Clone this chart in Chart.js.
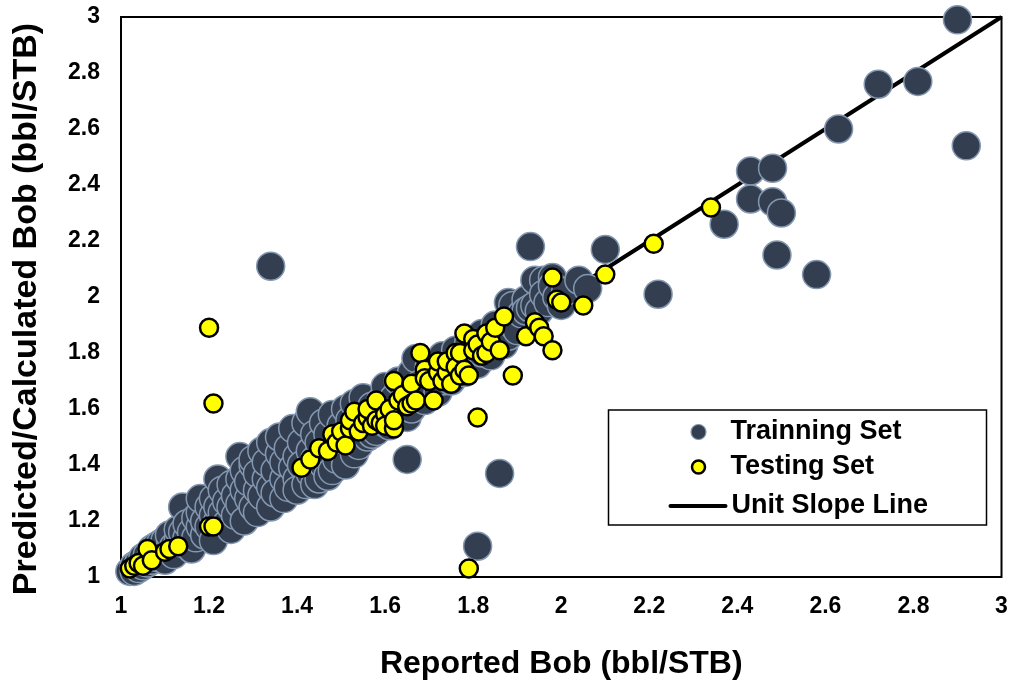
<!DOCTYPE html>
<html>
<head>
<meta charset="utf-8">
<script src="https://cdn.jsdelivr.net/npm/chart.js@4/dist/chart.umd.min.js"></script>
<style>
  html, body { margin: 0; padding: 0; background: #ffffff; }
  #wrap { width: 1017px; height: 687px; }
</style>
</head>
<body>
<div id="wrap"><canvas id="bobChart" width="1017" height="687"></canvas></div>
<script>
// Axis ticks (bbl/STB)
const xTickLabels = ['1', '1.2', '1.4', '1.6', '1.8', '2', '2.2', '2.4', '2.6', '2.8', '3'];
const yTickLabels = ['1', '1.2', '1.4', '1.6', '1.8', '2', '2.2', '2.4', '2.6', '2.8', '3'];
const xAxisTitle = 'Reported Bob (bbl/STB)';
const yAxisTitle = 'Predicted/Calculated Bob (bbl/STB)';

// Training set: [reported Bob, predicted Bob]
const trainingSet = [
  [1.02,1.02],[1.03,1.04],[1.03,1.02],[1.04,1.05],[1.04,1.03],[1.05,1.04],[1.05,1.07],[1.06,1.05],
  [1.06,1.08],[1.07,1.06],[1.07,1.10],[1.08,1.07],[1.08,1.11],[1.09,1.08],[1.09,1.12],[1.10,1.09],
  [1.10,1.13],[1.10,1.06],[1.11,1.10],[1.11,1.15],[1.12,1.11],[1.12,1.08],[1.13,1.13],[1.13,1.17],
  [1.14,1.12],[1.14,1.16],[1.14,1.25],[1.15,1.14],[1.15,1.19],[1.16,1.10],[1.16,1.16],[1.17,1.21],
  [1.17,1.14],[1.18,1.18],[1.18,1.23],[1.18,1.28],[1.19,1.15],[1.19,1.20],[1.20,1.25],[1.20,1.18],
  [1.21,1.22],[1.21,1.28],[1.21,1.13],[1.22,1.20],[1.22,1.25],[1.22,1.35],[1.23,1.31],[1.23,1.23],
  [1.24,1.27],[1.24,1.19],[1.25,1.33],[1.25,1.25],[1.25,1.17],[1.26,1.29],[1.26,1.22],[1.27,1.43],
  [1.27,1.35],[1.27,1.26],[1.28,1.31],[1.28,1.38],[1.28,1.20],[1.29,1.28],[1.29,1.34],[1.30,1.40],
  [1.30,1.25],[1.30,1.42],[1.31,1.31],[1.31,1.37],[1.31,1.23],[1.32,1.29],[1.32,1.45],[1.33,1.35],
  [1.33,1.41],[1.34,1.32],[1.34,1.48],[1.34,1.25],[1.35,1.38],[1.35,1.30],[1.36,1.44],[1.36,1.50],
  [1.37,1.35],[1.37,1.41],[1.37,1.28],[1.38,1.46],[1.38,1.32],[1.39,1.39],[1.39,1.53],[1.40,1.43],
  [1.40,1.35],[1.40,1.31],[1.41,1.48],[1.41,1.40],[1.42,1.55],[1.42,1.33],[1.43,1.59],[1.43,1.45],
  [1.43,1.37],[1.44,1.51],[1.44,1.42],[1.44,1.33],[1.45,1.35],[1.45,1.48],[1.46,1.55],[1.46,1.40],
  [1.47,1.45],[1.47,1.51],[1.47,1.36],[1.48,1.38],[1.48,1.58],[1.49,1.48],[1.49,1.42],[1.50,1.54],
  [1.50,1.45],[1.51,1.60],[1.51,1.40],[1.52,1.50],[1.52,1.56],[1.53,1.44],[1.53,1.62],[1.54,1.53],
  [1.54,1.47],[1.55,1.58],[1.55,1.64],[1.56,1.50],[1.56,1.55],[1.57,1.61],[1.57,1.51],[1.58,1.57],
  [1.58,1.52],[1.59,1.63],[1.60,1.55],[1.60,1.68],[1.61,1.59],[1.61,1.54],[1.62,1.64],[1.63,1.57],
  [1.63,1.70],[1.64,1.61],[1.65,1.57],[1.65,1.66],[1.66,1.73],[1.66,1.60],[1.67,1.78],[1.67,1.64],
  [1.68,1.69],[1.69,1.63],[1.70,1.75],[1.70,1.67],[1.71,1.72],[1.72,1.66],[1.73,1.79],[1.73,1.70],
  [1.74,1.75],[1.75,1.70],[1.76,1.81],[1.76,1.74],[1.77,1.78],[1.78,1.73],[1.79,1.84],[1.79,1.77],
  [1.80,1.81],[1.81,1.76],[1.82,1.87],[1.82,1.80],[1.83,1.84],[1.84,1.79],[1.85,1.90],[1.85,1.83],
  [1.86,1.87],[1.87,1.83],[1.88,1.92],[1.88,1.86],[1.88,1.98],[1.89,1.97],[1.89,1.90],[1.90,1.88],
  [1.91,1.94],[1.92,1.99],[1.92,1.95],[1.93,2.18],[1.93,1.96],[1.94,2.06],[1.94,1.97],[1.95,1.95],
  [1.96,2.06],[1.96,2.01],[1.97,1.98],[1.98,2.07],[1.98,2.04],[1.99,2.00],[2.00,1.97],[2.01,2.02],
  [2.04,2.06],[2.06,2.03],[2.10,2.17],[2.22,2.01],
  [1.34,2.11],[1.65,1.42],[1.86,1.37],[1.81,1.11],
  [2.37,2.26],[2.43,2.45],[2.48,2.46],[2.43,2.35],[2.48,2.34],[2.50,2.30],[2.49,2.15],[2.58,2.08],
  [2.63,2.60],[2.72,2.76],[2.81,2.77],[2.90,2.99],[2.92,2.54]
];

// Testing set: [reported Bob, predicted Bob]
const testingSet = [
  [1.02,1.03],[1.03,1.04],[1.04,1.05],[1.05,1.04],[1.06,1.10],[1.07,1.06],[1.10,1.09],[1.11,1.10],
  [1.13,1.11],[1.20,1.18],[1.21,1.18],[1.20,1.89],[1.21,1.62],
  [1.41,1.39],[1.43,1.42],[1.45,1.46],[1.47,1.45],[1.48,1.51],[1.49,1.48],[1.50,1.52],[1.51,1.47],
  [1.52,1.53],[1.52,1.56],[1.53,1.59],[1.54,1.52],[1.55,1.55],[1.56,1.57],[1.56,1.60],[1.57,1.54],
  [1.58,1.63],[1.58,1.56],[1.59,1.55],[1.60,1.58],[1.60,1.54],[1.61,1.60],[1.62,1.53],[1.62,1.70],
  [1.62,1.56],[1.63,1.63],[1.64,1.65],[1.65,1.61],[1.66,1.69],[1.66,1.62],[1.67,1.63],[1.68,1.80],
  [1.69,1.74],[1.69,1.71],[1.70,1.70],[1.71,1.63],[1.72,1.73],[1.72,1.77],[1.73,1.70],[1.74,1.73],
  [1.74,1.77],[1.75,1.69],[1.76,1.80],[1.76,1.75],[1.77,1.72],[1.77,1.80],[1.78,1.74],[1.78,1.87],
  [1.79,1.72],[1.80,1.85],[1.80,1.81],[1.81,1.83],[1.82,1.79],[1.83,1.80],[1.83,1.87],[1.84,1.84],
  [1.85,1.89],[1.86,1.81],[1.87,1.93],[1.89,1.72],[1.92,1.86],[1.94,1.91],[1.95,1.89],[1.96,1.86],
  [1.98,1.81],[1.98,2.07],[1.99,1.99],[2.00,1.98],[2.05,1.97],[2.10,2.08],[2.21,2.19],[2.34,2.32],
  [1.81,1.57],[1.79,1.03]
];

// Unit slope reference line end points
const unitSlopeLine = [[1, 1], [3, 3]];

const toXY = arr => arr.map(p => ({ x: p[0], y: p[1] }));
const FONT = "'Liberation Sans', Arial, Helvetica, sans-serif";

// Frame around the plotting area
const plotFrame = {
  id: 'plotFrame',
  beforeDatasetsDraw(chart) {
    const { ctx, chartArea: a } = chart;
    ctx.save();
    ctx.strokeStyle = '#000000';
    ctx.lineWidth = 2;
    ctx.strokeRect(a.left, a.top, a.right - a.left, a.bottom - a.top);
    ctx.restore();
  }
};

// Vertical axis title, set slightly below the plot's mid-height
const yTitle = {
  id: 'yTitle',
  afterDraw(chart) {
    const { ctx, chartArea: a } = chart;
    ctx.save();
    ctx.translate(27, (a.top + a.bottom) / 2 + 12);
    ctx.rotate(-Math.PI / 2);
    ctx.font = 'bold 34px ' + FONT;
    ctx.fillStyle = '#000000';
    ctx.textAlign = 'center';
    ctx.textBaseline = 'middle';
    ctx.fillText(yAxisTitle, 0, 0);
    ctx.restore();
  }
};

// Boxed legend in the lower right of the plotting area
const boxLegend = {
  id: 'boxLegend',
  afterDraw(chart) {
    const { ctx, chartArea: a } = chart;
    const ds = chart.data.datasets;
    const w = 378, h = 115;
    const x0 = a.right - 15 - w, y0 = a.bottom - 52 - h;
    ctx.save();
    ctx.fillStyle = '#ffffff';
    ctx.fillRect(x0, y0, w, h);
    ctx.strokeStyle = '#000000';
    ctx.lineWidth = 1.5;
    ctx.strokeRect(x0, y0, w, h);

    const mx = x0 + 90, tx = x0 + 122;
    const rows = [y0 + 22, y0 + 57, y0 + 96];
    ctx.font = 'bold 27px ' + FONT;
    ctx.textBaseline = 'middle';
    ctx.textAlign = 'left';

    const train = ds[1], test = ds[2], line = ds[0];
    // training marker
    ctx.beginPath();
    ctx.arc(mx, rows[0], 7.5, 0, Math.PI * 2);
    ctx.fillStyle = train.backgroundColor;
    ctx.fill();
    ctx.lineWidth = 1.2;
    ctx.strokeStyle = train.borderColor;
    ctx.stroke();
    ctx.fillStyle = '#000000';
    ctx.fillText(train.label, tx, rows[0]);
    // testing marker
    ctx.beginPath();
    ctx.arc(mx, rows[1], 6.5, 0, Math.PI * 2);
    ctx.fillStyle = test.backgroundColor;
    ctx.fill();
    ctx.lineWidth = 2.5;
    ctx.strokeStyle = test.borderColor;
    ctx.stroke();
    ctx.fillStyle = '#000000';
    ctx.fillText(test.label, tx, rows[1]);
    // line sample
    ctx.beginPath();
    ctx.moveTo(x0 + 62, rows[2]);
    ctx.lineTo(x0 + 117, rows[2]);
    ctx.lineWidth = 4;
    ctx.strokeStyle = line.borderColor;
    ctx.lineCap = 'round';
    ctx.stroke();
    ctx.fillText(line.label, tx + 1, rows[2]);
    ctx.restore();
  }
};

new Chart(document.getElementById('bobChart'), {
  type: 'scatter',
  data: {
    datasets: [
      {
        label: 'Unit Slope Line',
        type: 'line',
        data: toXY(unitSlopeLine),
        borderColor: '#000000',
        borderWidth: 4,
        pointRadius: 0,
        fill: false,
        order: 3,
        clip: false
      },
      {
        label: 'Trainning Set',
        data: toXY(trainingSet),
        backgroundColor: '#333f50',
        borderColor: '#8497b0',
        borderWidth: 1.5,
        pointRadius: 14,
        order: 2,
        clip: false
      },
      {
        label: 'Testing Set',
        data: toXY(testingSet),
        backgroundColor: '#ffff00',
        borderColor: '#000000',
        borderWidth: 2.5,
        pointRadius: 9,
        order: 1,
        clip: false
      }
    ]
  },
  options: {
    responsive: false,
    animation: false,
    events: [],
    layout: { padding: { top: 17, right: 12, left: 0, bottom: 0 } },
    plugins: {
      legend: { display: false },
      tooltip: { enabled: false }
    },
    scales: {
      x: {
        type: 'linear',
        min: 1,
        max: 3,
        afterFit(scale) {
          scale.height = 110;
          scale.paddingLeft = 0;
          scale.paddingRight = 0;
        },
        grid: { display: false, drawTicks: false },
        border: { display: false },
        ticks: {
          stepSize: 0.2,
          padding: 16,
          color: '#000000',
          font: { family: FONT, size: 23, weight: 'bold' },
          callback: (v, i) => xTickLabels[i]
        },
        title: {
          display: true,
          text: xAxisTitle,
          color: '#000000',
          font: { family: FONT, size: 32, weight: 'bold' },
          padding: { top: 0, bottom: 4 }
        }
      },
      y: {
        type: 'linear',
        min: 1,
        max: 3,
        afterFit(scale) {
          scale.width = 121;
          scale.paddingTop = 0;
          scale.paddingBottom = 0;
        },
        grid: { display: false, drawTicks: false },
        border: { display: false },
        ticks: {
          stepSize: 0.2,
          padding: 21,
          color: '#000000',
          font: { family: FONT, size: 23, weight: 'bold' },
          callback: (v, i) => yTickLabels[i]
        },
        title: { display: false }
      }
    }
  },
  plugins: [plotFrame, yTitle, boxLegend]
});
</script>
</body>
</html>
